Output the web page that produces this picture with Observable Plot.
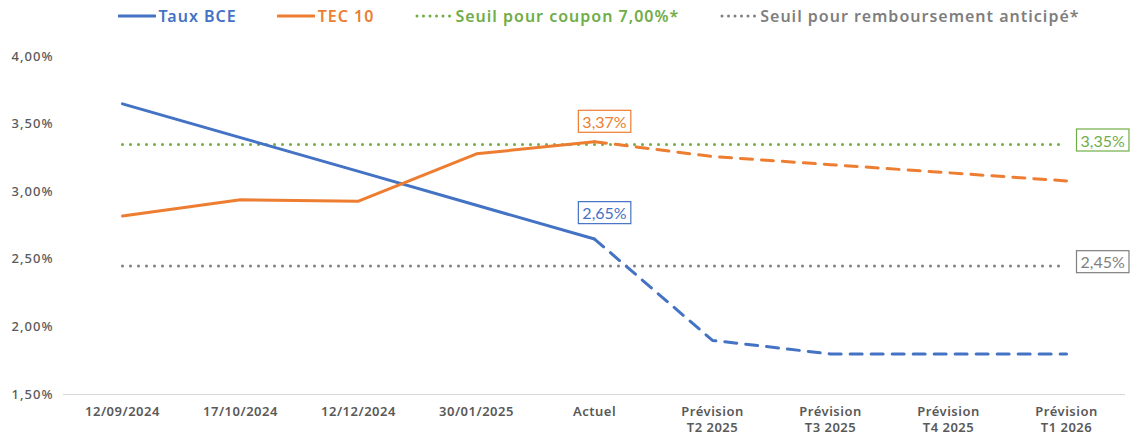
<!DOCTYPE html>
<html><head><meta charset="utf-8">
<script src="https://cdn.jsdelivr.net/npm/d3@7"></script>
<script src="https://cdn.jsdelivr.net/npm/@observablehq/plot@0.6"></script>
<style>
body{margin:0;background:#fff;width:1133px;height:435px;overflow:hidden;font-family:"Noto Sans",sans-serif;}
#legend{height:32px;display:flex;justify-content:center;align-items:center;gap:40px;font-size:16px;font-weight:600;letter-spacing:1px;padding-left:64px;box-sizing:border-box;}
.item{display:flex;align-items:center;gap:3px;}
#chart svg{overflow:visible;display:block;}
#chart g[aria-label="y-axis tick label"] text{letter-spacing:1px;}
#chart g[aria-label="x-axis tick label"] text{letter-spacing:0.5px;}
</style></head><body>
<div id="legend"></div><div id="chart"></div>
<script>
const categories = ["12/09/2024","17/10/2024","12/12/2024","30/01/2025","Actuel","Prévision T2 2025","Prévision T3 2025","Prévision T4 2025","Prévision T1 2026"];
const tauxBCE = [3.65, 3.40, 3.15, 2.90, 2.65, 1.90, 1.80, 1.80, 1.80];
const tec10 = [2.82, 2.94, 2.93, 3.28, 3.37, 3.26, 3.20, 3.14, 3.08];
const seuilCoupon = 3.35;
const seuilRemboursement = 2.45;
const actuelIndex = 4;
const yTicks = [1.5, 2, 2.5, 3, 3.5, 4];
const seriesNames = ["Taux BCE", "TEC 10", "Seuil pour coupon 7,00%*", "Seuil pour remboursement anticipé*"];
const seriesColors = ["#4472C4", "#ED7D31", "#70AD47", "#7F7F7F"];

const fmt = v => d3.format(".2f")(v).replace(".", ",") + "%";

// legend
const legend = document.getElementById("legend");
seriesNames.forEach((name, i) => {
  const item = document.createElement("div");
  item.className = "item";
  const dotted = i >= 2;
  item.innerHTML = `<svg width="38" height="8"><line x1="${dotted?3:1}" x2="${dotted?36:37}" y1="4" y2="4" stroke="${seriesColors[i]}" stroke-width="3" stroke-linecap="round" ${dotted ? 'stroke-dasharray="0,6.5"' : ''}/></svg><span style="color:${seriesColors[i]}">${name}</span>`;
  legend.appendChild(item);
});

function rows(values, name, from, to) {
  return values.slice(from, to + 1).map((v, k) => ({cat: categories[from + k], value: v, series: name}));
}
const hist = [...rows(tauxBCE, "Taux BCE", 0, actuelIndex), ...rows(tec10, "TEC 10", 0, actuelIndex)];
const fore = [...rows(tauxBCE, "Taux BCE", actuelIndex, categories.length - 1), ...rows(tec10, "TEC 10", actuelIndex, categories.length - 1)];
const thresholds = [
  {value: seuilCoupon, series: seriesNames[2]},
  {value: seuilRemboursement, series: seriesNames[3]}
];
const thresholdRows = thresholds.flatMap(t => [
  {cat: categories[0], value: t.value, series: t.series},
  {cat: categories[categories.length - 1], value: t.value, series: t.series}
]);
const tecLabel = [{cat: categories[actuelIndex], value: tec10[actuelIndex], series: "TEC 10"}];
const bceLabel = [{cat: categories[actuelIndex], value: tauxBCE[actuelIndex], series: "Taux BCE"}];

const colorScale = {domain: seriesNames, range: seriesColors};
const tickLabel = d => d.replace("Prévision ", "Prévision\n");
const labelFont = {fontSize: 16, fontFamily: "Lato"};

const chart = Plot.plot({
  width: 1133,
  height: 403,
  marginTop: 24,
  marginBottom: 41,
  marginLeft: 63,
  marginRight: 8,
  style: {fontFamily: "'Noto Sans', sans-serif", background: "white", overflow: "visible"},
  x: {type: "point", domain: categories, padding: 0.5, axis: null, label: null},
  y: {domain: [1.5, 4], axis: null, label: null},
  color: colorScale,
  marks: [
    Plot.ruleY([1.5], {stroke: "#d9d9d9", strokeWidth: 1}),
    Plot.axisY(yTicks, {tickSize: 0, tickPadding: 10, tickFormat: fmt, fontSize: 13, fontWeight: 500, fill: "#595959", label: null}),
    Plot.axisX({tickSize: 0, tickPadding: 9, tickFormat: tickLabel, fontSize: 13, fontWeight: 600, fill: "#595959", lineHeight: 1.3, label: null}),
    Plot.line(thresholdRows, {x: "cat", y: "value", z: "series", stroke: "series", strokeWidth: 3, strokeDasharray: "0,8", strokeLinecap: "round"}),
    Plot.line(fore, {x: "cat", y: "value", z: "series", stroke: "series", strokeWidth: 3, strokeDasharray: "12,9", strokeLinecap: "round"}),
    Plot.line(hist, {x: "cat", y: "value", z: "series", stroke: "series", strokeWidth: 3}),
    Plot.text(tecLabel, {x: "cat", y: "value", text: d => fmt(d.value), fill: "series", dx: 10, dy: -19, ...labelFont}),
    Plot.text(bceLabel, {x: "cat", y: "value", text: d => fmt(d.value), fill: "series", dx: 10, dy: -25, ...labelFont}),
    Plot.text(thresholds, {x: () => categories[categories.length - 1], y: "value", text: d => fmt(d.value), fill: "series", dx: 14, dy: -3, textAnchor: "start", ...labelFont})
  ]
});
document.getElementById("chart").appendChild(chart);

// frames around the value labels
chart.querySelectorAll('g[aria-label="text"] text').forEach(t => {
  const b = t.getBBox();
  const r = document.createElementNS("http://www.w3.org/2000/svg", "rect");
  r.setAttribute("x", b.x - 4);
  r.setAttribute("y", b.y - 1.5);
  r.setAttribute("width", b.width + 8);
  r.setAttribute("height", b.height + 3);
  r.setAttribute("fill", "white");
  r.setAttribute("stroke", t.getAttribute("fill") || t.parentNode.getAttribute("fill"));
  r.setAttribute("stroke-width", 1.2);
  if (t.getAttribute("transform")) r.setAttribute("transform", t.getAttribute("transform"));
  t.parentNode.insertBefore(r, t);
});
</script>
</body></html>
